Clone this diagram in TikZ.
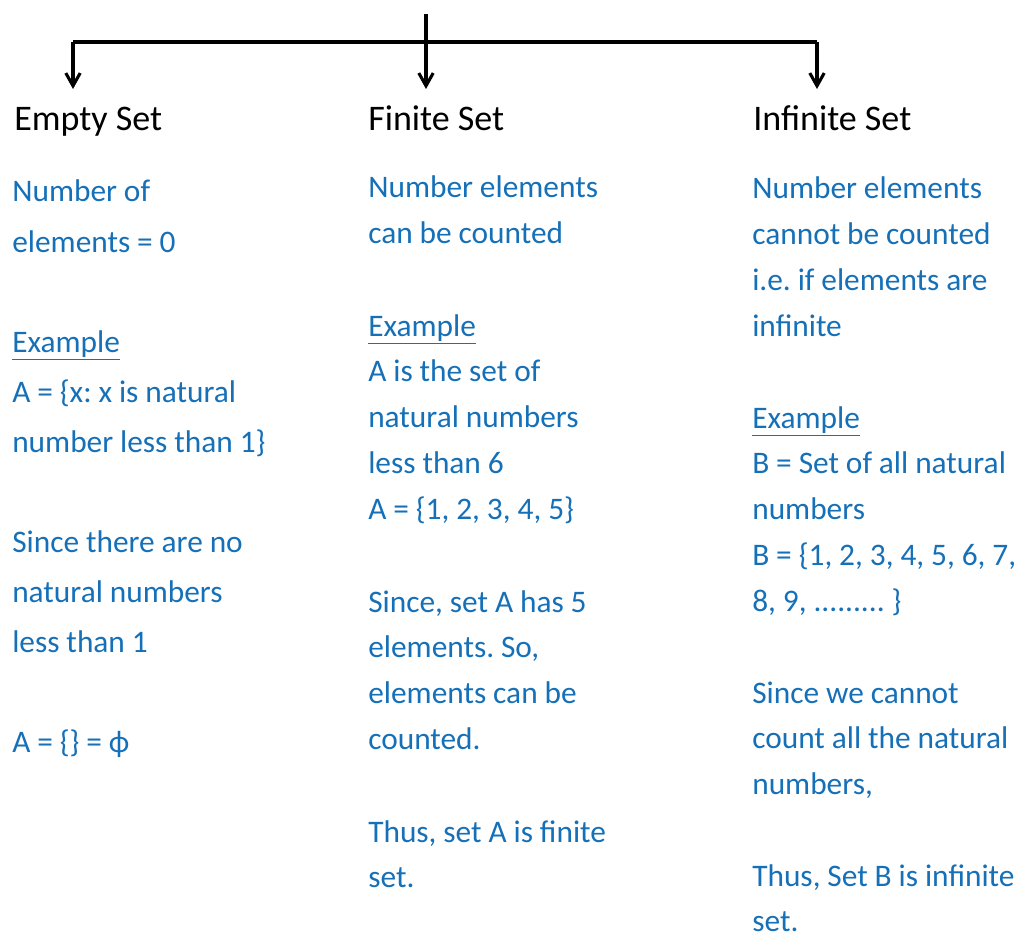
\documentclass[tikz,border=0pt]{standalone}
\usepackage{fontspec}
\setmainfont{Carlito}
\usetikzlibrary{arrows.meta}
\definecolor{inkblue}{HTML}{1570B8}
\newcommand\plainwords{\frenchspacing\spaceskip 0.22em plus 0.05em\relax\xspaceskip 0.22em plus 0.05em\relax}
\tikzset{
  head/.style={font=\fontsize{25.6}{30}\selectfont,text=black,anchor=base west,inner sep=0pt},
  body/.style={font=\fontsize{22.3}{32.7}\selectfont,text=inkblue,anchor=base west,inner sep=0pt,text width=9cm,align=left,execute at begin node=\plainwords},
  bodywide/.style={body,font=\fontsize{22.3}{35.6}\selectfont},
  link/.style={draw=black,line width=2.2pt},
  arr/.style={link,-{Straight Barb[length=3.2mm,width=3.6mm]}}
}
\begin{document}
\begin{tikzpicture}[x=0.025cm,y=-0.025cm]
\path[use as bounding box] (0,0) rectangle (1025,938);
% tree of the three kinds
\coordinate (top) at (426,14); \coordinate (fork) at (426,42);
\coordinate (el) at (73,42); \coordinate (er) at (817,42);
\coordinate (e-tip) at (73,89); \coordinate (f-tip) at (426,89); \coordinate (i-tip) at (817,89);
\draw[link] (el)--(er);
\draw[arr] (top)--(f-tip);
\draw[arr] (el)--(e-tip); \draw[arr] (er)--(i-tip);
\node[head] (e-head) at (14,131) {Empty Set};
\node[head] (f-head) at (368,131) {Finite Set};
\node[head] (i-head) at (753,131) {Infinite Set};
% empty set
\node[bodywide] (e-def) at (12,202) {Number of\\elements = 0};
\node[bodywide] (e-ex) at (12,352) {\underline{Example}\\A = \{x: x is natural\\number less than 1\}};
\node[bodywide] (e-why) at (12,552) {Since there are no\\natural numbers\\less than 1};
\node[bodywide] (e-res) at (12,752) {A = \{\} = ϕ};
% finite set
\node[body] (f-def) at (368,198) {Number elements\\can be counted};
\node[body] (f-ex) at (368,336) {\underline{Example}\\A is the set of\\natural numbers\\less than 6\\A = \{1, 2, 3, 4, 5\}};
\node[body] (f-why) at (368,612) {Since, set A has 5\\elements. So,\\elements can be\\counted.};
\node[body] (f-res) at (368,842) {Thus, set A is finite\\set.};
% infinite set
\node[body] (i-def) at (752,199) {Number elements\\cannot be counted\\i.e. if elements are\\infinite};
\node[body] (i-ex) at (752,428) {\underline{Example}\\B = Set of all natural\\numbers\\B = \{1, 2, 3, 4, 5, 6, 7,\\8, 9, ......... \}};
\node[body] (i-why) at (752,703) {Since we cannot\\count all the natural\\numbers,};
\node[body] (i-res) at (752,886) {Thus, Set B is infinite\\set.};
\end{tikzpicture}
\end{document}
